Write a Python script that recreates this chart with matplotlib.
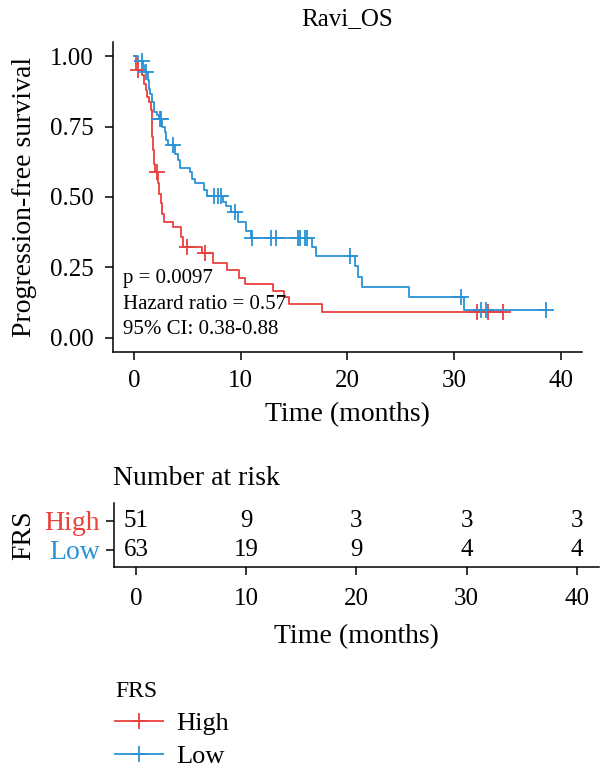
import numpy as np
import matplotlib
matplotlib.use("Agg")
import matplotlib.pyplot as plt
from matplotlib.lines import Line2D

plt.rcParams["font.family"] = ["Liberation Serif", "DejaVu Serif"]

RED = "#E8413E"
BLUE = "#2A93D5"

# Kaplan-Meier step values
high_t = [0, 0.22, 0.78, 0.94, 1.10, 1.25, 1.41, 1.56, 1.66, 1.72, 1.78, 1.88, 1.97,
          2.28, 2.35, 2.5, 2.66, 2.82, 3.6, 4.38, 4.54, 6.4, 7.36, 8.67, 9.86, 10.36,
          12.99, 14.1, 14.5, 17.6, 34.6]
high_s = [1.0, 0.949, 0.932, 0.902, 0.878, 0.855, 0.837, 0.807, 0.76, 0.713, 0.666,
          0.618, 0.589, 0.548, 0.512, 0.477, 0.441, 0.411, 0.394, 0.358, 0.323, 0.30,
          0.266, 0.240, 0.214, 0.19, 0.167, 0.145, 0.122, 0.092, 0.092]
high_cens = [0.41, 2.1, 5.0, 6.67, 32.2, 33.2, 34.6]

low_t = [0, 0.35, 0.8, 0.88, 1.29, 1.41, 1.5, 1.72, 1.91, 2.13, 2.35, 2.6, 2.91, 2.97,
         3.22, 3.85, 4.1, 4.32, 5.26, 5.41, 5.73, 6.51, 6.82, 8.3, 8.6, 9.08, 9.7,
         10.49, 10.95, 16.68, 17.06, 20.75, 20.97, 21.38, 25.73, 30.9, 38.7]
low_s = [1.0, 0.984, 0.967, 0.943, 0.914, 0.884, 0.867, 0.837, 0.801, 0.790, 0.778,
         0.748, 0.73, 0.701, 0.683, 0.654, 0.63, 0.604, 0.589, 0.565, 0.548, 0.524,
         0.504, 0.482, 0.468, 0.445, 0.411, 0.38, 0.356, 0.323, 0.29, 0.254, 0.216,
         0.181, 0.145, 0.098, 0.098]
low_cens = [0.72, 1.16, 2.45, 2.55, 3.6, 7.51, 7.83, 8.14, 9.48, 11.05, 12.8, 13.3,
            15.4, 15.56, 16.06, 16.2, 20.25, 30.67, 32.55, 33.0, 38.66]

groups = ["High", "Low"]
risk_times = [0, 10, 20, 30, 40]
risk_high = [51, 9, 3, 3, 3]
risk_low = [63, 19, 9, 4, 4]

stats = ["p = 0.0097", "Hazard ratio = 0.57", "95% CI: 0.38-0.88"]


def at(t, s, x):
    i = np.searchsorted(t, x, side="right") - 1
    return np.asarray(s)[i]


fig = plt.figure(figsize=(6, 7.77), dpi=100)

# --- survival curves ---
ax = fig.add_axes([0.188, 0.547, 0.782, 0.399])
for t, s, c, col in [(high_t, high_s, high_cens, RED), (low_t, low_s, low_cens, BLUE)]:
    ax.step(t, s, where="post", color=col, lw=1.3)
    ax.plot(c, at(t, s, c), "+", color=col, ms=11, mew=1.3, ls="none")

ax.set_xlim(-2, 42)
ax.set_ylim(-0.05, 1.05)
ax.set_xticks([0, 10, 20, 30, 40])
ax.set_yticks([0, 0.25, 0.5, 0.75, 1.0])
ax.set_yticklabels(["0.00", "0.25", "0.50", "0.75", "1.00"])
for sp in ["top", "right"]:
    ax.spines[sp].set_visible(False)
for sp in ["left", "bottom"]:
    ax.spines[sp].set_linewidth(1.1)
ax.tick_params(axis="both", length=6, width=1.1, labelsize=18)
ax.tick_params(axis="x", pad=7)
ax.tick_params(axis="y", pad=8)
ax.set_xlabel("Time (months)", fontsize=20, labelpad=7)
ax.set_ylabel("Progression-free survival", fontsize=20, labelpad=9)
ax.set_title("Ravi_OS", fontsize=18, pad=12)
for k, txt in enumerate(stats):
    ax.text(-1.0, 0.212 - 0.092 * k, txt, fontsize=15, ha="left", va="center")

# --- number at risk table ---
rx = fig.add_axes([0.19, 0.270, 0.808, 0.083])
for y, vals in [(2, risk_high), (1, risk_low)]:
    for x, v in zip(risk_times, vals):
        rx.text(x, y, str(v), fontsize=18, ha="center", va="center")
rx.set_xlim(-2, 42)
rx.set_ylim(0.4, 2.62)
rx.set_xticks(risk_times)
rx.set_yticks([2, 1])
rx.set_yticklabels(groups)
for lab, col in zip(rx.get_yticklabels(), [RED, BLUE]):
    lab.set_color(col)
for sp in ["top", "right"]:
    rx.spines[sp].set_visible(False)
for sp in ["left", "bottom"]:
    rx.spines[sp].set_linewidth(1.1)
rx.tick_params(axis="both", length=6, width=1.1, labelsize=18)
rx.tick_params(axis="y", labelsize=20, pad=4)
rx.tick_params(axis="x", pad=9)
rx.set_xlabel("Time (months)", fontsize=20, labelpad=10)
rx.set_ylabel("FRS", fontsize=20, labelpad=6)
fig.text(0.188, 0.384, "Number at risk", fontsize=20, ha="left", va="center")

# --- legend ---
handles = [Line2D([], [], color=RED, lw=1.3, marker="+", ms=11, mew=1.3),
           Line2D([], [], color=BLUE, lw=1.3, marker="+", ms=11, mew=1.3)]
leg = fig.legend(handles, groups, title="FRS", loc="upper left",
                 bbox_to_anchor=(0.17, 0.14), frameon=False, fontsize=19,
                 title_fontsize=17, handlelength=1.8, handletextpad=0.5,
                 labelspacing=0.35, borderpad=0, alignment="left")

fig.savefig("out.png", dpi=100)
